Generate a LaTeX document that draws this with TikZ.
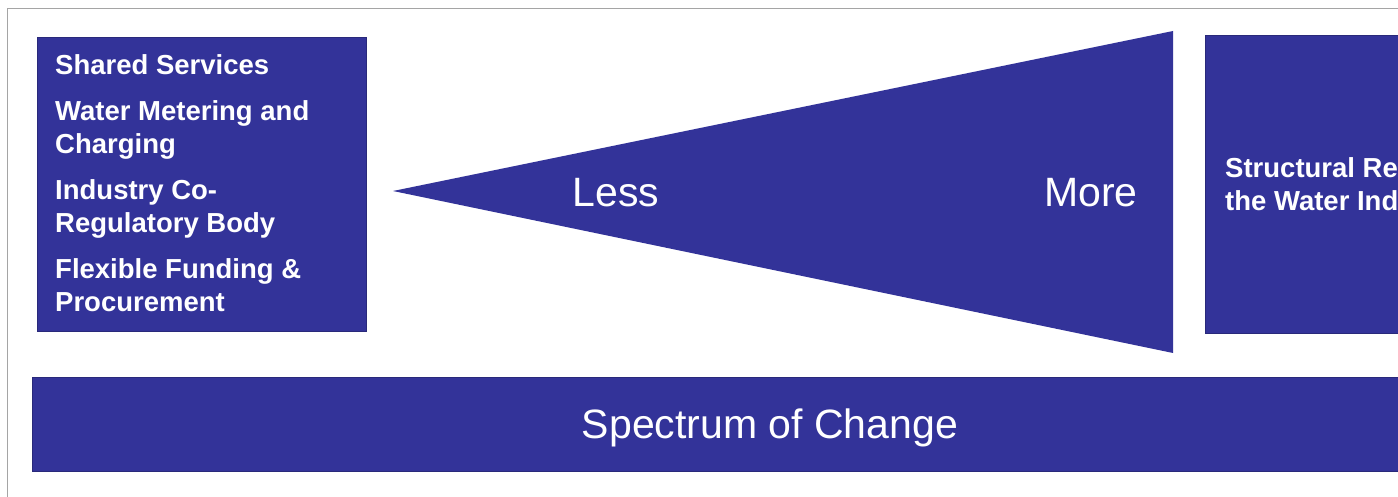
\documentclass[tikz,border=0pt]{standalone}
\usepackage{fontspec}
\setmainfont{Liberation Sans}
\usepackage{tikz}
\usetikzlibrary{positioning}

\definecolor{boxblue}{RGB}{51,51,153}
\definecolor{rimgray}{RGB}{165,165,165}

\tikzset{
  panel/.style={fill=boxblue, draw=boxblue!80!black, line width=0.8pt, inner sep=0pt, anchor=north west},
  boldtext/.style={text=white, font=\bfseries\fontsize{27.5}{33}\selectfont, align=left, inner sep=0pt, anchor=north west},
  bigtext/.style={text=white, font=\fontsize{41}{46}\selectfont, inner sep=0pt, anchor=base},
}

\begin{document}
\begin{tikzpicture}[x=1pt, y=-1pt]
    \useasboundingbox (0,0) rectangle (1398,497);
    \clip (0,0) rectangle (1398,497);
    % thin frame, top and left
    \draw[rimgray, line width=1pt] (7,497) -- (7,9) -- (1398,9);

    % left panel
    \node[panel, minimum width=329pt, minimum height=294pt] (lbox) at (37,37) {};
    \node[boldtext, below right=17pt and 18pt of lbox.north west] (ltext)
        {Shared Services\\[13pt]
         Water Metering and\\Charging\\[13pt]
         Industry Co-\\Regulatory Body\\[13pt]
         Flexible Funding \&\\Procurement};

    % wedge
    \coordinate (tip) at (393,191);
    \coordinate (wtop) at (1173,31);
    \coordinate (wbot) at (1173,353);
    \fill[boxblue] (tip) -- (wtop) -- (wbot) -- cycle;
    \node[bigtext] (less) at (616,207) {Less};
    \node[bigtext] (more) at (1091,207) {More};

    % right panel
    \node[panel, minimum width=250pt, minimum height=298pt] (rbox) at (1205,35) {};
    \node[boldtext, below right=122pt and 20pt of rbox.north west] (rtext)
        {Structural Reform of\\the Water Industry};

    % bottom bar
    \node[panel, minimum width=1400pt, minimum height=94pt] (bar) at (32,377) {};
    \node[bigtext] (spectrum) at (770,438) {Spectrum of Change};
\end{tikzpicture}
\end{document}
